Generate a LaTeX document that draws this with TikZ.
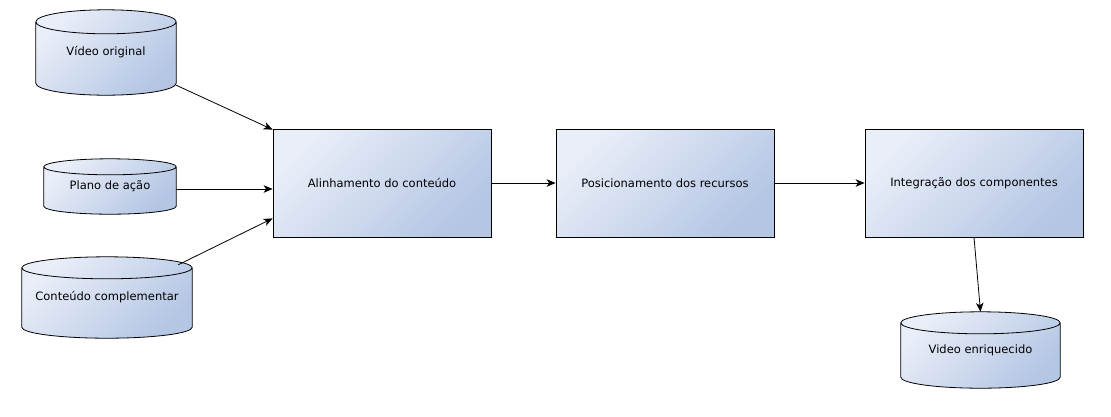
\documentclass[tikz,border=0pt]{standalone}
\usepackage{fontspec}
\setmainfont{DejaVu Sans}
\usetikzlibrary{arrows.meta,calc,backgrounds}
\definecolor{clight}{RGB}{233,238,248}
\definecolor{cdark}{RGB}{180,198,228}
\tikzset{
  procbox/.style={draw=black, line width=0.8pt, left color=clight, right color=cdark, shading angle=45,
    minimum width=218pt, minimum height=108pt, inner sep=0pt, font=\fontsize{11.5}{13}\selectfont},
  cylnode/.style={inner sep=0pt, font=\fontsize{11.5}{13}\selectfont},
  cylfill/.style={left color=clight, right color=cdark, shading angle=45},
  cylline/.style={draw=black, line width=0.8pt},
  arr/.style={-{Stealth[length=9pt,width=7.5pt,inset=2.5pt]}, line width=0.8pt},
}
\newcommand\drawcyl[2]{%
  \path[cylfill] let \p1=(#1.north west), \p2=(#1.south east), \n1={(\x2-\x1)/2} in
    (\x1,\y1-#2) arc[start angle=180,end angle=0,x radius=\n1*1pt,y radius=#2]
    -- (\x2,\y2+#2) arc[start angle=0,end angle=-180,x radius=\n1*1pt,y radius=#2] -- cycle;
  \draw[cylline] let \p1=(#1.north west), \p2=(#1.south east), \n1={(\x2-\x1)/2} in
    (\x1,\y1-#2) arc[start angle=180,end angle=360,x radius=\n1*1pt,y radius=#2]
    arc[start angle=0,end angle=180,x radius=\n1*1pt,y radius=#2]
    -- (\x1,\y2+#2) arc[start angle=180,end angle=360,x radius=\n1*1pt,y radius=#2]
    -- (\x2,\y1-#2);
}
\begin{document}
\begin{tikzpicture}[x=1pt,y=-1pt]
\useasboundingbox (0,0) rectangle (1111,416);

\node[cylnode, minimum width=140pt, minimum height=85pt] (vo) at (106,52.5) {Vídeo original};
\node[cylnode, minimum width=132pt, minimum height=55pt] (pl) at (110,186.5) {Plano de ação};
\node[cylnode, minimum width=170pt, minimum height=81pt] (cc) at (107,297.5) {Conteúdo complementar};
\node[cylnode, minimum width=159pt, minimum height=76pt] (ve) at (980.5,350) {Video enriquecido};

\begin{pgfonlayer}{background}
  \drawcyl{vo}{12pt}
  \drawcyl{pl}{8pt}
  \drawcyl{cc}{11pt}
  \drawcyl{ve}{11pt}
\end{pgfonlayer}

\node[procbox] (al) at (382,183) {Alinhamento do conteúdo};
\node[procbox] (po) at (665,183) {Posicionamento dos recursos};
\node[procbox] (in) at (974,183) {Integração dos componentes};

\draw[arr] ([yshift=10pt]vo.south east) -- ([yshift=-1pt]al.north west);
\draw[arr] ([yshift=-2.5pt]pl.east) coordinate (p1) -- (p1 -| al.west);
\draw[arr] ([xshift=-14pt,yshift=-8pt]cc.north east) -- ([yshift=19pt]al.south west);
\draw[arr] (al.east) -- (po.west);
\draw[arr] (po.east) -- (in.west);
\draw[arr] (in.south) -- (ve.north);
\end{tikzpicture}
\end{document}
